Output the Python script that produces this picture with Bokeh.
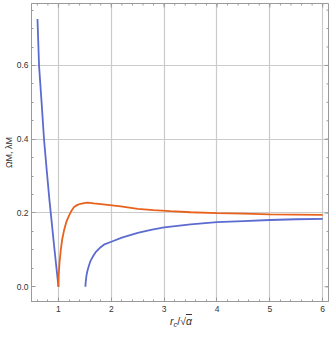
from bokeh.plotting import figure
from bokeh.models import FixedTicker, Range1d, Div
from bokeh.layouts import column
from bokeh.embed import file_html
from bokeh.resources import INLINE

# ---- data ----
blue1_x = [0.603, 0.633, 0.679, 0.728, 0.78, 0.83, 0.875, 0.917, 0.96, 1.0]
blue1_y = [0.726, 0.599, 0.504, 0.398, 0.313, 0.234, 0.171, 0.112, 0.054, 0.0]

orange_x = [1.0, 1.005, 1.02, 1.043, 1.07, 1.106, 1.15, 1.2, 1.25, 1.295, 1.36, 1.421,
            1.484, 1.55, 1.67, 1.8, 1.93, 2.18, 2.5, 2.8, 3.12, 3.5, 4.0, 4.5, 5.0, 5.5, 6.0]
orange_y = [0.0, 0.03, 0.065, 0.098, 0.128, 0.153, 0.176, 0.193, 0.207, 0.216, 0.222, 0.225,
            0.227, 0.228, 0.226, 0.224, 0.222, 0.218, 0.211, 0.208, 0.205, 0.202, 0.1995,
            0.198, 0.196, 0.1955, 0.195]

blue2_x = [1.51, 1.515, 1.53, 1.55, 1.58, 1.61, 1.66, 1.70, 1.78, 1.86, 2.0, 2.2, 2.5,
           2.75, 3.0, 3.5, 4.0, 4.5, 5.0, 5.5, 6.0]
blue2_y = [0.0, 0.012, 0.03, 0.044, 0.059, 0.071, 0.084, 0.093, 0.105, 0.114, 0.122,
           0.133, 0.146, 0.154, 0.161, 0.169, 0.175, 0.178, 0.181, 0.183, 0.184]

x_ticks = [1, 2, 3, 4, 5, 6]
x_minor = [round(0.6 + 0.2 * i, 2) for i in range(28)]
y_ticks = [0.0, 0.2, 0.4, 0.6]
y_minor = [round(0.05 * i, 2) for i in range(16)]
y_tick_labels = {0.0: "0.0", 0.2: "0.2", 0.4: "0.4", 0.6: "0.6"}
y_label = "ΩM, λM"

BLUE = "#5c6bcf"
ORANGE = "#e8621e"
FRAME = "#9a9a9a"
TXT = "#333333"
FONT = "Liberation Sans"

X0, X1 = 0.49, 6.11
Y0, Y1 = -0.04, 0.768

p = figure(width=332, height=314, output_backend="svg", toolbar_location=None,
           x_range=Range1d(X0, X1), y_range=Range1d(Y0, Y1),
           min_border_left=31, min_border_right=4, min_border_top=3, min_border_bottom=13)
p.background_fill_color = "white"
p.border_fill_color = "white"
p.outline_line_color = FRAME
p.outline_line_width = 1

p.xgrid.ticker = FixedTicker(ticks=x_ticks)
p.ygrid.ticker = FixedTicker(ticks=[0.2, 0.4, 0.6])
p.xgrid.grid_line_color = "#cbcbcb"
p.ygrid.grid_line_color = "#cbcbcb"
p.xgrid.grid_line_width = 1.2
p.ygrid.grid_line_width = 1.2

for ax, tk, mn in ((p.xaxis[0], x_ticks, x_minor), (p.yaxis[0], y_ticks, y_minor)):
    ax.ticker = FixedTicker(ticks=tk, minor_ticks=mn)
    ax.axis_line_color = FRAME
    ax.major_tick_line_color = FRAME
    ax.minor_tick_line_color = FRAME
    ax.major_tick_in = 4
    ax.major_tick_out = 0
    ax.minor_tick_in = 2
    ax.minor_tick_out = 0
    ax.major_label_text_font = FONT
    ax.major_label_text_color = TXT
    ax.major_label_text_font_size = "8.5px"
    ax.major_label_standoff = 4

p.yaxis[0].major_label_standoff = 3
p.yaxis[0].major_label_overrides = y_tick_labels
p.yaxis[0].axis_label = y_label
p.yaxis[0].axis_label_text_font = FONT
p.yaxis[0].axis_label_text_font_style = "normal"
p.yaxis[0].axis_label_text_font_size = "9px"
p.yaxis[0].axis_label_text_color = TXT
p.yaxis[0].axis_label_standoff = 0

# tick marks on the top and right frame edges, from the same tick lists
sx = (X1 - X0) / 297.0   # data per pixel
sy = (Y1 - Y0) / 298.0
p.segment(x0=x_ticks, y0=[Y1] * len(x_ticks), x1=x_ticks, y1=[Y1 - 4 * sy] * len(x_ticks),
          line_color=FRAME, line_width=1)
p.segment(x0=x_minor, y0=[Y1] * len(x_minor), x1=x_minor, y1=[Y1 - 2 * sy] * len(x_minor),
          line_color=FRAME, line_width=1)
p.segment(x0=[X1] * len(y_ticks), y0=y_ticks, x1=[X1 - 4 * sx] * len(y_ticks), y1=y_ticks,
          line_color=FRAME, line_width=1)
p.segment(x0=[X1] * len(y_minor), y0=y_minor, x1=[X1 - 2 * sx] * len(y_minor), y1=y_minor,
          line_color=FRAME, line_width=1)

p.line(blue1_x, blue1_y, line_color=BLUE, line_width=1.8)
p.line(orange_x, orange_y, line_color=ORANGE, line_width=1.8)
p.line(blue2_x, blue2_y, line_color=BLUE, line_width=1.8)

x_label_html = (
    '<div style="margin-left:165px; margin-top:-14px; position:relative; top:-6px; '
    "white-space:nowrap; font-family:'Liberation Sans'; font-size:10.5px; color:#333; "
    'line-height:12px;">'
    '<i>r</i><sub style="font-size:7.5px; vertical-align:-2px;"><i>c</i></sub>/&#8730;'
    '<span style="text-decoration:overline;"><i>&#945;</i></span></div>'
)
xlab = Div(text=x_label_html, width=332, height=20)

layout = column(p, xlab, spacing=0)

open("out.html", "w").write(file_html(layout, INLINE))
